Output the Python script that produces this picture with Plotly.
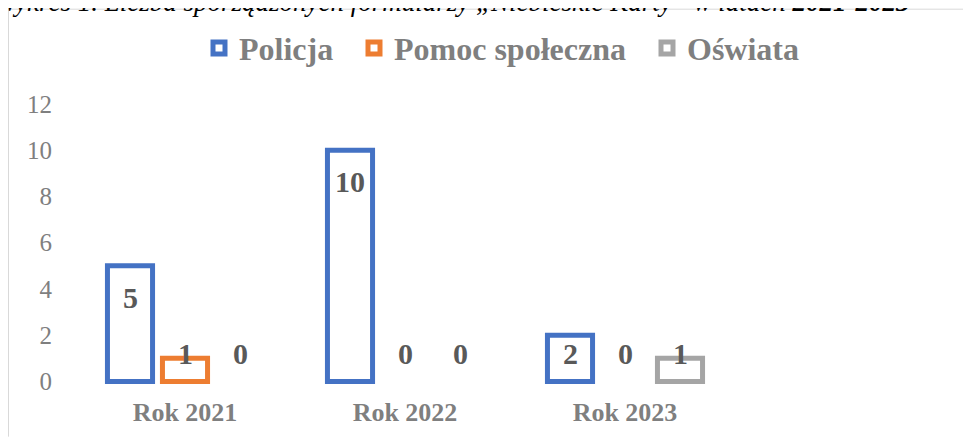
import plotly.graph_objects as go

categories = ["Rok 2021", "Rok 2022", "Rok 2023"]
series_names = ["Policja", "Pomoc społeczna", "Oświata"]
policja = [5, 10, 2]
pomoc = [1, 0, 0]
oswiata = [0, 0, 1]
y_ticks = [0, 2, 4, 6, 8, 10, 12]
title_text = "Wykres 1. Liczba sporządzonych formularzy „Niebieskie Karty” w latach <b>2021-2023</b>"

colors = ["#4472C4", "#ED7D31", "#A5A5A5"]
values = [policja, pomoc, oswiata]
legend_text_px = [231, 386, 679]  # where each legend entry's text starts (figure px)

# page has an 8px body margin; figure sized to fit the window
W, H = 963, 431
ml, mr, mt, mb = 67, 236, 96, 51
plot_w = W - ml - mr
plot_h = H - mt - mb
bargap = 0.25
slot_px = plot_w / len(categories) * (1 - bargap) / len(series_names)


def px_to_paper_x(px):
    return (px - ml) / plot_w


def px_to_paper_y(py):
    return (H - mb - py) / plot_h


legend_font = dict(family="Liberation Serif", size=32, color="#7F7F7F", weight="bold")
legend_ids = ["legend", "legend2", "legend3"]

fig = go.Figure()
for name, vals, col, lid in zip(series_names, values, colors, legend_ids):
    fig.add_trace(go.Bar(
        x=categories, y=[v if v != 0 else None for v in vals], name=name,
        marker=dict(color="white", line=dict(color=col, width=5)),
        hoverinfo="skip", legend=lid,
    ))

label_font = dict(family="Liberation Serif", size=30, color="#595959")
for j, vals in enumerate(values):
    for cat, v in zip(categories, vals):
        fig.add_annotation(
            x=cat, y=max(v - 1.36, 1.2), xref="x", yref="y",
            text=f"<b>{v}</b>", showarrow=False,
            xshift=(j - 1) * slot_px, font=label_font,
            xanchor="center", yanchor="middle",
        )

# chart border (top and left edges visible)
fig.add_shape(type="line", xref="paper", yref="paper",
              x0=px_to_paper_x(0.5), x1=px_to_paper_x(W),
              y0=px_to_paper_y(0.5), y1=px_to_paper_y(0.5),
              line=dict(color="#D9D9D9", width=1), layer="below")
fig.add_shape(type="line", xref="paper", yref="paper",
              x0=px_to_paper_x(0.5), x1=px_to_paper_x(0.5),
              y0=px_to_paper_y(0.5), y1=px_to_paper_y(H),
              line=dict(color="#D9D9D9", width=1), layer="below")

# clipped title above chart
fig.add_annotation(
    xref="paper", yref="paper", x=px_to_paper_x(-15), y=px_to_paper_y(10),
    xanchor="left", yanchor="bottom", showarrow=False,
    text=f"<i>{title_text}</i>",
    font=dict(family="Liberation Serif", size=27, color="black"),
)

legends = {}
for lid, tx in zip(legend_ids, legend_text_px):
    legends[lid] = dict(
        orientation="h", xref="paper", yref="paper",
        x=px_to_paper_x(tx - 40), y=px_to_paper_y(12), xanchor="left", yanchor="top",
        font=legend_font, bgcolor="rgba(0,0,0,0)",
    )

fig.update_layout(
    width=W, height=H,
    margin=dict(l=ml, r=mr, t=mt, b=mb),
    paper_bgcolor="white", plot_bgcolor="white",
    barmode="group", bargap=bargap, bargroupgap=0.18,
    showlegend=True,
    **legends,
    xaxis=dict(
        showgrid=False, zeroline=False, showline=False, ticks="",
        tickfont=dict(family="Liberation Serif", size=26, color="#7F7F7F", weight="bold"),
        ticklabelstandoff=8,
    ),
    yaxis=dict(
        range=[-0.2, 12], tickvals=y_ticks, showgrid=False, zeroline=False,
        showline=False, ticks="",
        tickfont=dict(family="Liberation Serif", size=25, color="#7F7F7F"),
        ticklabelstandoff=22,
    ),
)

fig.write_html("out.html")
